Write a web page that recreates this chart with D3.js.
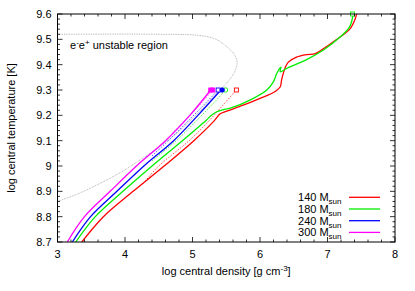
<!DOCTYPE html>
<html>
<head>
<meta charset="utf-8">
<script src="https://cdn.jsdelivr.net/npm/d3@7"></script>
<style>
  body { margin: 0; background: #fff; }
  text { font-family: "Liberation Sans", Arial, sans-serif; }
</style>
</head>
<body>
<div class="chart"></div>
<script>
// tracks: [log rho, log T]
const masses = ["140", "180", "240", "300"]
const colors = ["#ff0000", "#00ee00", "#0000ff", "#ff00ff"]

const solid140 = [[3.36,8.7],[3.68,8.8],[4.12,8.9],[4.58,9.0],[5.02,9.1],[5.31,9.175],[5.41,9.206],[5.5,9.216],[5.75,9.24],[6.0,9.267],[6.2,9.29],[6.3,9.313],[6.32,9.34],[6.37,9.386],[6.42,9.41],[6.54,9.43],[6.69,9.44],[6.81,9.443],[6.91,9.458],[7.14,9.5],[7.33,9.54],[7.41,9.58],[7.43,9.6]]
const solid180 = [[3.27,8.7],[3.56,8.8],[3.97,8.9],[4.4,9.0],[4.85,9.1],[5.2,9.18],[5.28,9.2],[5.36,9.214],[5.45,9.222],[5.56,9.228],[5.85,9.26],[6.1,9.3],[6.2,9.333],[6.25,9.366],[6.31,9.39],[6.3,9.372],[6.4,9.386],[6.69,9.42],[6.94,9.458],[7.19,9.51],[7.33,9.55],[7.38,9.6]]
const solid240 = [[3.22,8.7],[3.49,8.8],[3.88,8.9],[4.28,9.0],[4.72,9.1],[5.08,9.2],[5.42,9.3]]
const solid300 = [[3.145,8.7],[3.4,8.8],[3.78,8.9],[4.17,9.0],[4.6,9.1],[4.96,9.2],[5.27,9.3]]

const dash140 = [[4.3,8.94],[4.5,9.0],[4.95,9.1],[5.25,9.18],[5.45,9.24],[5.65,9.3]]
const dash180 = [[4.4,9.02],[4.8,9.11],[5.1,9.19],[5.3,9.245],[5.49,9.3]]
const dash240 = [[4.4,9.04],[4.7,9.115],[5.0,9.195],[5.2,9.25],[5.38,9.3]]
const dash300 = [[4.7,9.13],[5.0,9.21],[5.3,9.3]]

const solids = [solid140, solid180, solid240, solid300]
const dashes = [dash140, dash180, dash240, dash300]

// end markers: [x, y, shape, filled, mass index]
const markers = [[5.65,9.3,"square",false,0],[5.49,9.3,"circle",false,1],[5.38,9.3,"square",false,2],[5.44,9.3,"circle",true,2],[5.27,9.3,"square",true,3],[5.30,9.3,"square",true,3],[7.37,9.6,"square",false,1]]

const boundary = [[3.0,8.86],[3.3,8.89],[3.73,8.945],[4.0,8.985],[4.2,9.02],[4.37,9.05],[4.6,9.095],[4.81,9.14],[5.05,9.2],[5.26,9.26],[5.45,9.31],[5.56,9.345],[5.63,9.375],[5.66,9.41],[5.62,9.44],[5.51,9.47],[5.35,9.5],[5.11,9.515],[4.5,9.52],[3.0,9.52]]

const xTicks = [3, 4, 5, 6, 7, 8]
const yTicks = [8.7, 8.8, 8.9, 9, 9.1, 9.2, 9.3, 9.4, 9.5, 9.6]

const margin = {top: 14, right: 20, bottom: 49, left: 57.5}
const W = 415, H = 291
const width = W - margin.left - margin.right
const height = H - margin.top - margin.bottom

const svg = d3.select(".chart").append("svg")
    .attr("width", W)
    .attr("height", H)
  .append("g")
    .attr("transform", `translate(${margin.left},${margin.top})`)

const x = d3.scaleLinear().domain([3, 8]).range([0, width])
const y = d3.scaleLinear().domain([8.7, 9.6]).range([height, 0])

svg.append("clipPath").attr("id", "clip")
  .append("rect").attr("width", width).attr("height", height)

const line = d3.line()
    .x(d => x(d[0]))
    .y(d => y(d[1]))
    .curve(d3.curveCatmullRom.alpha(0.5))

const plot = svg.append("g").attr("clip-path", "url(#clip)")

// unstable region boundary
plot.append("path")
    .attr("d", line(boundary))
    .attr("fill", "none")
    .attr("stroke", "#888")
    .attr("stroke-width", 0.7)
    .attr("stroke-dasharray", "0.8,0.9")

dashes.forEach((d, i) => {
  plot.append("path")
      .attr("d", line(d))
      .attr("fill", "none")
      .attr("stroke", colors[i])
      .attr("stroke-width", 0.7)
      .attr("stroke-dasharray", "1.5,1.5")
})

solids.forEach((d, i) => {
  plot.append("path")
      .attr("d", line(d))
      .attr("fill", "none")
      .attr("stroke", colors[i])
      .attr("stroke-width", 1.3)
})

markers.forEach(m => {
  const c = colors[m[4]]
  const sel = m[2] == "square"
    ? svg.append("rect").attr("x", x(m[0]) - 2).attr("y", y(m[1]) - 2).attr("width", 4).attr("height", 4)
    : svg.append("circle").attr("cx", x(m[0])).attr("cy", y(m[1])).attr("r", 2.2)
  sel.attr("fill", m[3] ? c : "#fff").attr("stroke", c).attr("stroke-width", 0.9)
})

// frame
svg.append("rect")
    .attr("width", width).attr("height", height)
    .attr("fill", "none").attr("stroke", "#000").attr("stroke-width", 1)

// ticks (inward, mirrored)
const xMinor = d3.range(3, 8.001, 0.2)
const yMinor = d3.range(8.7, 9.6001, 0.02)
const tk = svg.append("g").attr("stroke", "#000").attr("stroke-width", 0.8)
xMinor.forEach(v => {
  const major = xTicks.some(t => Math.abs(t - v) < 1e-6)
  const len = major ? 5 : 2.5
  tk.append("line").attr("x1", x(v)).attr("x2", x(v)).attr("y1", height).attr("y2", height - len)
  tk.append("line").attr("x1", x(v)).attr("x2", x(v)).attr("y1", 0).attr("y2", len)
})
yMinor.forEach(v => {
  const major = yTicks.some(t => Math.abs(t - v) < 1e-6)
  const len = major ? 5 : 2.5
  tk.append("line").attr("y1", y(v)).attr("y2", y(v)).attr("x1", 0).attr("x2", len)
  tk.append("line").attr("y1", y(v)).attr("y2", y(v)).attr("x1", width).attr("x2", width - len)
})

svg.selectAll(".xt").data(xTicks).join("text")
    .attr("class", "xt")
    .attr("x", d => x(d))
    .attr("y", height + 16)
    .attr("text-anchor", "middle")
    .attr("font-size", 11)
    .text(d => d)

svg.selectAll(".yt").data(yTicks).join("text")
    .attr("class", "yt")
    .attr("x", -6)
    .attr("y", d => y(d) + 4)
    .attr("text-anchor", "end")
    .attr("font-size", 11)
    .text(d => d3.format("")(d))

// axis titles
const xl = svg.append("text")
    .attr("x", width / 2)
    .attr("y", height + 33)
    .attr("text-anchor", "middle")
    .attr("font-size", 11)
xl.append("tspan").text("log central density [g cm")
xl.append("tspan").attr("font-size", 8).attr("dy", -4).text("-3")
xl.append("tspan").attr("dy", 4).text("]")

svg.append("text")
    .attr("transform", `translate(${-margin.left + 15},${height / 2}) rotate(-90)`)
    .attr("text-anchor", "middle")
    .attr("font-size", 11)
    .text("log central temperature [K]")

// region label
const rl = svg.append("text")
    .attr("x", 12.5)
    .attr("y", 35)
    .attr("font-size", 11)
rl.append("tspan").text("e")
rl.append("tspan").attr("font-size", 8).attr("dy", -4).text("-")
rl.append("tspan").attr("dy", 4).text("e")
rl.append("tspan").attr("font-size", 8).attr("dy", -4).text("+")
rl.append("tspan").attr("dy", 4).text(" unstable region")

// legend
const lg = svg.append("g").attr("transform", `translate(0,${197.3 - margin.top})`)
masses.forEach((m, i) => {
  const yy = i * 11.7
  const t = lg.append("text")
      .attr("x", 341.5 - margin.left)
      .attr("y", yy + 4)
      .attr("text-anchor", "end")
      .attr("font-size", 11)
  t.append("tspan").text(m + " M")
  t.append("tspan").attr("font-size", 8).attr("dy", 3).text("sun")
  lg.append("line")
      .attr("x1", 349 - margin.left).attr("x2", 380 - margin.left)
      .attr("y1", yy).attr("y2", yy)
      .attr("stroke", colors[i]).attr("stroke-width", 1.3)
})
</script>
</body>
</html>
